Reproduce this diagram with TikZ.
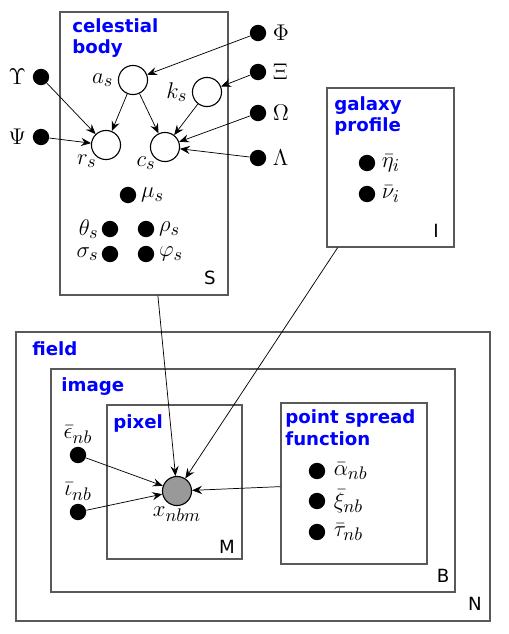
\documentclass[tikz,border=0pt]{standalone}
\usepackage{fix-cm}
\usepackage{amsmath}
\usepackage{amssymb}
\usepackage{fontspec}
\setsansfont{DejaVu Sans}
\usepackage{xcolor}
\usepackage{tikz}
\usetikzlibrary{arrows.meta, positioning, fit}
\DeclareMathSizes{10}{12.5}{10}{8}

\begin{document}
\begin{tikzpicture}[
    x=0.55pt, y=-0.55pt,
    latent/.style={circle, draw=black, fill=white, semithick, minimum size=16pt, inner sep=0pt},
    obs/.style={circle, draw=black, fill=black!40, semithick, minimum size=16pt, inner sep=0pt},
    fixed/.style={circle, fill=black, minimum size=9pt, inner sep=0pt},
    plate/.style={rectangle, draw=black!65, line width=0.7pt, inner sep=0pt},
    title/.style={anchor=north west, align=left, text=blue, font=\sffamily\bfseries, inner sep=0pt},
    tag/.style={font=\sffamily},
    arrow/.style={-{Stealth[length=5.5pt, width=4.5pt, inset=2pt]}, thin}
]
\useasboundingbox (0,0) rectangle (508,634);

% Plates
\node[plate, fit={(60,12) (228,295)}] (body) {};
\node[plate, fit={(327,88) (454,247)}] (galaxy) {};
\node[plate, fit={(16,332) (490,621)}] (field) {};
\node[plate, fit={(51,369) (455,592)}] (image) {};
\node[plate, fit={(107,405) (242,559)}] (pixel) {};
\node[plate, fit={(281,403) (427,564)}] (psf) {};

\node[title] at (72,18) {celestial\\body};
\node[title] at (334,96) {galaxy\\profile};
\node[title] at (32,341) {field};
\node[title] at (61,377) {image};
\node[title] at (113,414) {pixel};
\node[title] at (285,409) {point spread\\function};

\node[tag] at (210,278) {S};
\node[tag] at (436,231) {I};
\node[tag] at (227,547) {M};
\node[tag] at (443,576) {B};
\node[tag] at (475,604) {N};

% Nodes
\node[latent, label={[label distance=-1pt]left:$a_s$}] (as) at (133,80) {};
\node[latent, label={[label distance=-1pt]left:$k_s$}] (ks) at (207,92) {};
\node[latent, label={[label distance=-6pt]below left:$r_s$}] (rs) at (106,145) {};
\node[latent, label={[label distance=-6pt]below left:$c_s$}] (cs) at (165,147) {};
\node[fixed, label=right:$\Phi$] (Phi) at (258,33) {};
\node[fixed, label=right:$\Xi$] (Xi) at (258,72) {};
\node[fixed, label=right:$\Omega$] (Omega) at (258,113) {};
\node[fixed, label=right:$\Lambda$] (Lambda) at (258,158) {};
\node[fixed, label=left:$\Upsilon$] (Upsilon) at (41,77) {};
\node[fixed, label=left:$\Psi$] (Psi) at (41,137) {};
\node[fixed, label={[label distance=-1pt]right:$\mu_s$}] (mu) at (128,195) {};
\node[fixed, label={[label distance=-2pt]left:$\theta_s$}] (theta) at (110,229) {};
\node[fixed, label={[label distance=-1pt]right:$\rho_s$}] (rho) at (146,229) {};
\node[fixed, label={[label distance=-2pt]left:$\sigma_s$}] (sigma) at (110,254) {};
\node[fixed, label={[label distance=-1pt]right:$\varphi_s$}] (varphi) at (146,254) {};

\node[fixed, label=right:$\bar\eta_i$] (eta) at (367,163) {};
\node[fixed, label=right:$\bar\nu_i$] (nu) at (367,194) {};

\node[obs, label={[label distance=-3pt]below:$x_{nbm}$}] (x) at (177,491) {};
\node[fixed, label={[label distance=-2pt]above:$\bar\epsilon_{nb}$}] (eps) at (78,455) {};
\node[fixed, label={[label distance=-2pt]above:$\bar\iota_{nb}$}] (iota) at (78,512) {};
\node[fixed, label={[label distance=1pt]right:$\bar\alpha_{nb}$}] (alpha) at (317,471) {};
\node[fixed, label={[label distance=1pt]right:$\bar\xi_{nb}$}] (xi) at (317,501) {};
\node[fixed, label={[label distance=1pt]right:$\bar\tau_{nb}$}] (tau) at (317,532) {};

% Arrows
\draw[arrow] (Phi) -- (as);
\draw[arrow] (Xi) -- (ks);
\draw[arrow] (Omega) -- (cs);
\draw[arrow] (Lambda) -- (cs);
\draw[arrow] (Upsilon) -- (rs);
\draw[arrow] (Psi) -- (rs);
\draw[arrow] (as) -- (rs);
\draw[arrow] (as) -- (cs);
\draw[arrow] (ks) -- (cs);
\draw[arrow] (body) -- (x);
\draw[arrow] (galaxy) -- (x);
\draw[arrow] (psf) -- (x);
\draw[arrow] (eps) -- (x);
\draw[arrow] (iota) -- (x);

\end{tikzpicture}
\end{document}
